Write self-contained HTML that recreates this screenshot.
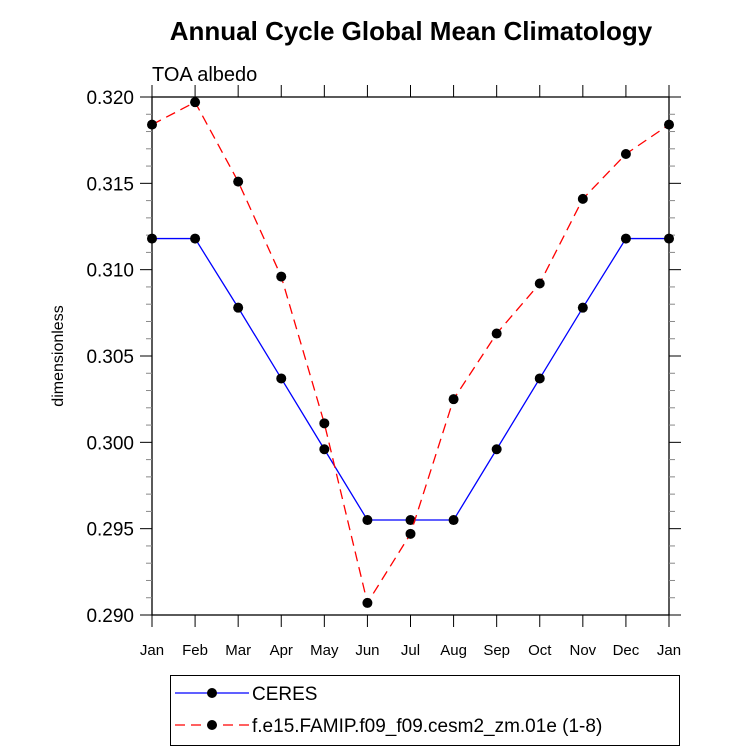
<!DOCTYPE html>
<html><head><meta charset="utf-8"><style>
body{margin:0;background:#fff}
svg{display:block;font-family:"Liberation Sans",sans-serif}
</style></head><body>
<svg id="c" width="733" height="751" xmlns="http://www.w3.org/2000/svg">
<text x="411" y="40" text-anchor="middle" font-size="26" font-weight="bold">Annual Cycle Global Mean Climatology</text>
<text x="152" y="81" font-size="20">TOA albedo</text>
<text transform="translate(63,356) rotate(-90)" text-anchor="middle" font-size="16">dimensionless</text>
<g id="axes"></g><g id="series"></g>
<g>
<rect x="170.5" y="675.5" width="509" height="70" fill="none" stroke="#000" stroke-width="1"/>
<g>
<line x1="175" y1="693" x2="249" y2="693" stroke="#00f" stroke-width="1.3"/>
<circle cx="212" cy="693" r="5" fill="#000"/>
<text x="252" y="700" font-size="19">CERES</text></g>
<g>
<line x1="175" y1="725" x2="249" y2="725" stroke="#f00" stroke-width="1.3" stroke-dasharray="10,6"/>
<circle cx="212" cy="725" r="5" fill="#000"/>
<text x="252" y="732" font-size="19">f.e15.FAMIP.f09_f09.cesm2_zm.01e (1-8)</text></g>
</g>
</svg>
<script>
const months=["Jan","Feb","Mar","Apr","May","Jun","Jul","Aug","Sep","Oct","Nov","Dec","Jan"];
const yTicks=[0.290,0.295,0.300,0.305,0.310,0.315,0.320];
const yTickLabels=["0.290","0.295","0.300","0.305","0.310","0.315","0.320"];
const ceres=[0.3118,0.3118,0.3078,0.3037,0.2996,0.2955,0.2955,0.2955,0.2996,0.3037,0.3078,0.3118,0.3118];
const model=[0.3184,0.3197,0.3151,0.3096,0.3011,0.2907,0.2947,0.3025,0.3063,0.3092,0.3141,0.3167,0.3184];
const L=152,R=669,T=97,B=615,ymin=0.290,ymax=0.320;
const X=i=>L+(R-L)*i/(months.length-1);
const Y=v=>B-(v-ymin)/(ymax-ymin)*(B-T);
const NS="http://www.w3.org/2000/svg";
function mk(t,a,p){const e=document.createElementNS(NS,t);for(const k in a)e.setAttribute(k,a[k]);p.appendChild(e);return e;}
const ax=document.getElementById('axes');
const fr=mk('rect',{x:L,y:T,width:R-L,height:B-T,fill:'none',stroke:'#000','stroke-width':1.3},ax);


months.forEach((m,i)=>{const x=X(i);
mk('line',{x1:x,y1:B,x2:x,y2:B+12,stroke:'#000'},ax);
mk('line',{x1:x,y1:T,x2:x,y2:T-12,stroke:'#000'},ax);
const t=mk('text',{x:x,y:B+40,'text-anchor':'middle','font-size':15},ax);t.textContent=m;

});
for(let v=ymin;v<=ymax+1e-9;v+=0.001){const y=Y(v);const maj=Math.abs(Math.round(v*200)-v*200)<1e-6;const len=maj?12:6;
mk('line',{x1:L-len,y1:y,x2:L,y2:y,stroke:maj?'#000':'#888'},ax);
mk('line',{x1:R,y1:y,x2:R+len,y2:y,stroke:maj?'#000':'#888'},ax);}
yTicks.forEach((v,i)=>{const t=mk('text',{x:L-18,y:Y(v)+7,'text-anchor':'end','font-size':19},ax);t.textContent=yTickLabels[i];

});
const sg=document.getElementById('series');
function series(d,col,dash,name){const g=mk('g',{},sg);


const a={points:d.map((v,i)=>X(i)+','+Y(v)).join(' '),fill:'none',stroke:col,'stroke-width':1.3};if(dash)a['stroke-dasharray']=dash;
mk('polyline',a,g);
d.forEach((v,i)=>{const c=mk('circle',{cx:X(i),cy:Y(v),r:5,fill:'#000'},g);

});}
series(ceres,'#00f',null,'ceres-series');
series(model,'#f00','10,6','model-series');
</script>
</body></html>
